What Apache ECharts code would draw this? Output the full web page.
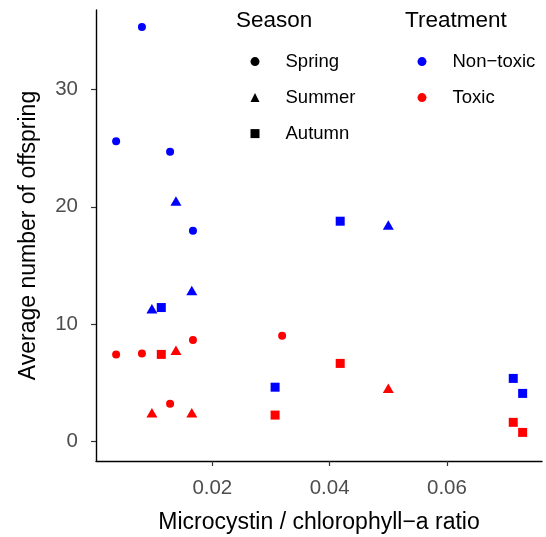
<!DOCTYPE html>
<html>
<head>
<meta charset="utf-8">
<script src="https://cdn.jsdelivr.net/npm/echarts@6/dist/echarts.min.js"></script>
<style>
html,body{margin:0;padding:0;background:#fff;}
#chart{width:546px;height:537px;}
</style>
</head>
<body>
<div id="chart"></div>
<script>
// ---- data (x = microcystin / chlorophyll-a ratio, y = average offspring) ----
var nonToxicSpring = [[0.0036,25.6],[0.0080,35.35],[0.0128,24.7],[0.0167,17.95]];
var nonToxicSummer = [[0.0097,11.3],[0.0138,20.5],[0.0165,12.85],[0.0500,18.45]];
var nonToxicAutumn = [[0.0113,11.4],[0.0307,4.6],[0.0418,18.77],[0.0713,5.35],[0.0729,4.07]];
var toxicSpring = [[0.0036,7.4],[0.0080,7.48],[0.0128,3.18],[0.0167,8.62],[0.0319,8.99]];
var toxicSummer = [[0.0097,2.42],[0.0138,7.76],[0.0165,2.42],[0.0500,4.5]];
var toxicAutumn = [[0.0113,7.4],[0.0307,2.22],[0.0418,6.63],[0.0713,1.6],[0.0729,0.74]];

var seasons = ['Spring','Summer','Autumn'];
var treatments = ['Non\u2212toxic','Toxic'];
var xTicks = [0.02,0.04,0.06];
var yTicks = [0,10,20,30];

var FONT = 'Liberation Sans, Arial, Helvetica, sans-serif';
var seasonSymbol = {Spring:'circle', Summer:'triangle', Autumn:'rect'};
var symbolSizeOf = {circle:8, triangle:[11,9.5], rect:9};
var treatColor = {'Non\u2212toxic':'#0000FF', 'Toxic':'#FF0000'};

var groups = [
  {t:treatments[0], s:'Spring', d:nonToxicSpring},
  {t:treatments[0], s:'Summer', d:nonToxicSummer},
  {t:treatments[0], s:'Autumn', d:nonToxicAutumn},
  {t:treatments[1], s:'Spring', d:toxicSpring},
  {t:treatments[1], s:'Summer', d:toxicSummer},
  {t:treatments[1], s:'Autumn', d:toxicAutumn}
];

var series = [];
groups.forEach(function(g){
  var sym = seasonSymbol[g.s];
  series.push({
    type:'scatter', name:g.t+' '+g.s, data:g.d,
    symbol:sym, symbolSize:symbolSizeOf[sym],
    itemStyle:{color:treatColor[g.t], opacity:1},
    silent:true
  });
});
// legend-only series
seasons.forEach(function(s){
  series.push({type:'scatter', name:s, data:[], symbol:seasonSymbol[s],
    symbolSize:symbolSizeOf[seasonSymbol[s]], itemStyle:{color:'#000', opacity:1}});
});
treatments.forEach(function(t){
  series.push({type:'scatter', name:t, data:[], symbol:'circle', symbolSize:8,
    itemStyle:{color:treatColor[t], opacity:1}});
});

var legendText = {color:'#000', fontSize:18.5, fontFamily:FONT, lineHeight:20, padding:[0,0,0,21]};

var chart = echarts.init(document.getElementById('chart'), null, {renderer:'canvas'});
chart.setOption({
  animation:false,
  backgroundColor:'#fff',
  textStyle:{fontFamily:FONT},
  grid:{left:96, right:4, top:10, bottom:76, containLabel:false, outerBoundsMode:'none'},
  xAxis:{
    type:'value', min:0.00017, max:0.0762,
    name:'Microcystin / chlorophyll\u2212a ratio', nameLocation:'middle', nameGap:50,
    nameTextStyle:{color:'#000', fontSize:23, fontFamily:FONT},
    axisLine:{show:true, onZero:false, lineStyle:{color:'#000', width:1.4}},
    axisTick:{show:true, length:5, customValues:xTicks, lineStyle:{color:'#333', width:1.2}},
    axisLabel:{customValues:xTicks, color:'#4D4D4D', fontSize:20.5, fontFamily:FONT, margin:17},
    splitLine:{show:false}
  },
  yAxis:{
    type:'value', min:-1.7, max:36.8,
    name:'Average number of offspring', nameLocation:'middle', nameGap:56,
    nameTextStyle:{color:'#000', fontSize:23, fontFamily:FONT},
    axisLine:{show:true, onZero:false, lineStyle:{color:'#000', width:1.4}},
    axisTick:{show:true, length:5, customValues:yTicks, lineStyle:{color:'#333', width:1.2}},
    axisLabel:{customValues:yTicks, color:'#4D4D4D', fontSize:20.5, fontFamily:FONT, margin:18},
    splitLine:{show:false}
  },
  legend:[
    {orient:'vertical', left:245.5, top:46.6, itemWidth:9, itemHeight:9, itemGap:16,
     selectedMode:false, textStyle:legendText,
     data:seasons.map(function(s){return {name:s, icon:seasonSymbol[s], itemStyle:{opacity:1}};})},
    {orient:'vertical', left:412.5, top:46.6, itemWidth:9, itemHeight:9, itemGap:16,
     selectedMode:false, textStyle:legendText,
     data:treatments.map(function(t){return {name:t, icon:'circle', itemStyle:{opacity:1}};})}
  ],
  graphic:[
    {type:'text', left:236, top:9.5, style:{text:'Season', fill:'#000', font:'22.5px '+FONT}},
    {type:'text', left:405, top:9.5, style:{text:'Treatment', fill:'#000', font:'22.5px '+FONT}}
  ],
  series:series
});
</script>
</body>
</html>
